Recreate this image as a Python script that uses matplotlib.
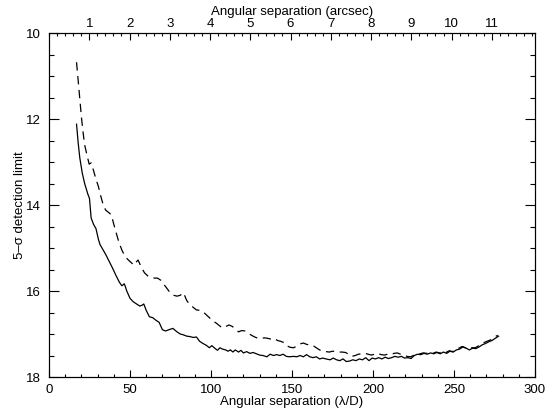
import matplotlib
matplotlib.use("Agg")
import matplotlib.pyplot as plt
from matplotlib.ticker import MultipleLocator

plt.rcParams['font.family'] = ['Liberation Sans', 'DejaVu Sans']
plt.rcParams['lines.scale_dashes'] = False

lod_per_arcsec = 24.85

solid_x = [17, 18, 19, 20.5, 22, 24, 25, 26, 27.5, 29, 30.5, 31.5, 33, 35, 37, 39, 41.5, 43.5, 45, 46.5,
           48, 50, 52, 54, 56, 57.5, 58.5, 60, 62, 64, 66, 68, 70, 72, 74, 76.5, 79, 81, 83, 85,
           87, 89, 91, 93, 95, 97, 99, 100.5, 102, 104, 105.5, 107, 109, 110.5, 112, 113.5, 115, 117, 118.5, 120,
           122, 124, 126, 128, 130, 132, 134.5, 136.5, 138.5, 140.5, 142.5, 144.5, 146.5, 148.5, 151, 153, 155, 157, 159, 161,
           163, 165, 167, 169, 171, 173.5, 175.5, 177.5, 179.5, 181.5, 183.5, 185.5, 187.5, 189.5, 191.5, 193.5, 195.5, 197.5, 199.5, 201.5,
           203.5, 205.5, 207.5, 209.5, 211.5, 213.5, 215.5, 217.5, 219.5, 221.5, 223.5, 225.5, 227.5, 229.5, 231.5, 233.5, 235.5, 237.5, 239.5, 241.5,
           243.5, 245.5, 247.5, 249.5, 251.5, 253.5, 255.5, 257.5, 259.5, 261.5, 263.5, 265.5, 267.5, 269.5, 271.5, 273.5, 275.5, 277.5]
solid_y = [12.12, 12.55, 12.9, 13.25, 13.5, 13.75, 13.85, 14.3, 14.45, 14.55, 14.8, 14.92, 15.02, 15.15, 15.3, 15.45, 15.65, 15.8, 15.88, 15.83,
           16.0, 16.17, 16.25, 16.3, 16.35, 16.33, 16.3, 16.45, 16.6, 16.62, 16.68, 16.73, 16.9, 16.93, 16.9, 16.87, 16.95, 17.0, 17.02, 17.05,
           17.06, 17.08, 17.07, 17.17, 17.22, 17.26, 17.32, 17.27, 17.32, 17.38, 17.32, 17.35, 17.37, 17.40, 17.37, 17.42, 17.37, 17.42, 17.38, 17.44,
           17.41, 17.45, 17.43, 17.46, 17.49, 17.50, 17.53, 17.47, 17.50, 17.48, 17.50, 17.47, 17.52, 17.53, 17.52, 17.53, 17.50, 17.53, 17.48, 17.53,
           17.55, 17.53, 17.58, 17.56, 17.58, 17.60, 17.56, 17.60, 17.62, 17.58, 17.64, 17.63, 17.60, 17.62, 17.58, 17.60, 17.55, 17.62, 17.56, 17.58,
           17.55, 17.58, 17.54, 17.57, 17.55, 17.52, 17.54, 17.52, 17.56, 17.55, 17.57, 17.50, 17.47, 17.48, 17.45, 17.47, 17.44, 17.46, 17.43, 17.46,
           17.42, 17.45, 17.40, 17.42, 17.37, 17.35, 17.30, 17.33, 17.37, 17.33, 17.34, 17.30, 17.25, 17.22, 17.18, 17.15, 17.10, 17.05]

dash_x = [17, 18, 19, 20, 21, 22, 23.5, 24.8, 26, 27.5, 29, 30.5, 32, 33.5, 35, 37, 38.5, 40, 41.5, 43,
          45, 47, 49, 51, 52.5, 54, 55, 57, 59, 61, 63, 65, 67, 69, 71, 73, 75, 77, 79, 81,
          83, 85, 87, 89, 91, 93, 95, 97, 99, 101, 103, 105, 107, 109, 111, 113, 115, 117, 119, 121,
          123, 125, 127, 129, 131, 133, 135, 137, 139, 141, 143, 145, 147, 149, 151, 153, 155, 157, 159, 161,
          163, 165, 167, 169, 171, 173, 175, 177, 179, 181, 183, 185, 187, 189, 191, 193, 195, 197, 199, 201,
          203, 205, 207, 209, 211, 213, 215, 217, 219, 221, 223, 225, 227, 229, 231, 233, 235, 237, 239, 241,
          243, 245, 247, 249, 251, 253, 255, 257, 259, 261, 263, 265, 267, 269, 271, 273, 275, 277]
dash_y = [10.68, 11.1, 11.5, 11.95, 12.3, 12.6, 12.85, 13.05, 13.02, 13.2, 13.4, 13.57, 13.8, 14.0, 14.12, 14.18, 14.23, 14.45, 14.65, 14.85,
          15.05, 15.2, 15.28, 15.35, 15.4, 15.32, 15.28, 15.45, 15.58, 15.65, 15.68, 15.7, 15.7, 15.75, 15.85, 15.95, 16.05, 16.1, 16.12, 16.1,
          16.04, 16.22, 16.32, 16.38, 16.44, 16.45, 16.48, 16.55, 16.62, 16.70, 16.74, 16.8, 16.86, 16.83, 16.79, 16.82, 16.88, 16.95, 16.92, 16.93,
          16.98, 17.03, 17.07, 17.1, 17.1, 17.09, 17.10, 17.12, 17.10, 17.15, 17.17, 17.2, 17.28, 17.31, 17.32, 17.28, 17.23, 17.21, 17.24, 17.26,
          17.27, 17.32, 17.37, 17.40, 17.41, 17.42, 17.40, 17.41, 17.42, 17.42, 17.43, 17.47, 17.52, 17.50, 17.47, 17.46, 17.45, 17.47, 17.49, 17.47,
          17.45, 17.48, 17.49, 17.47, 17.48, 17.45, 17.44, 17.47, 17.50, 17.52, 17.53, 17.50, 17.47, 17.46, 17.44, 17.45, 17.43, 17.45, 17.42, 17.44,
          17.41, 17.43, 17.39, 17.41, 17.36, 17.33, 17.29, 17.32, 17.35, 17.32, 17.32, 17.28, 17.23, 17.19, 17.16, 17.13, 17.07, 17.03]

bottom_ticks = [0, 50, 100, 150, 200, 250, 300]
left_ticks = [10, 12, 14, 16, 18]
top_ticks = [1, 2, 3, 4, 5, 6, 7, 8, 9, 10, 11]

fig = plt.figure(figsize=(5.46, 4.13), dpi=100)
ax = fig.add_axes([49/546, 1 - 377/413, (535 - 49)/546, (377 - 33)/413])

ax.plot(solid_x, solid_y, color='black', lw=0.9, solid_joinstyle='miter')
ax.plot(dash_x, dash_y, color='black', lw=0.9, dashes=(6, 4))

ax.set_xlim(0, 300)
ax.set_ylim(18, 10)
ax.set_xticks(bottom_ticks)
ax.set_yticks(left_ticks)
ax.xaxis.set_minor_locator(MultipleLocator(10))
ax.yaxis.set_minor_locator(MultipleLocator(0.5))
ax.tick_params(axis='x', which='major', direction='in', length=5, width=0.8, bottom=True, top=False, labelsize=9.5, pad=5)
ax.tick_params(axis='x', which='minor', direction='in', length=2.5, width=0.8, bottom=True, top=False)
ax.tick_params(axis='y', which='major', direction='in', length=7, width=0.8, left=True, right=True, labelsize=9.5, pad=6)
ax.tick_params(axis='y', which='minor', direction='in', length=3.5, width=0.8, left=True, right=True)
for s in ax.spines.values():
    s.set_linewidth(0.8)
ax.set_xlabel('Angular separation (λ/D)', fontsize=9.5, labelpad=0)
ax.set_ylabel('5–σ detection limit', fontsize=9.5, labelpad=0)

ax2 = ax.twiny()
ax2.set_xlim(0, 300 / lod_per_arcsec)
ax2.set_xticks(top_ticks)
ax2.xaxis.set_minor_locator(MultipleLocator(0.2))
ax2.tick_params(axis='x', which='major', direction='in', length=5, width=0.8, labelsize=9.5, pad=2.5)
ax2.tick_params(axis='x', which='minor', direction='in', length=2.5, width=0.8)
ax2.set_xlabel('Angular separation (arcsec)', fontsize=9.5, labelpad=2)
for s in ax2.spines.values():
    s.set_linewidth(0.8)

fig.savefig('out.png', dpi=100)
